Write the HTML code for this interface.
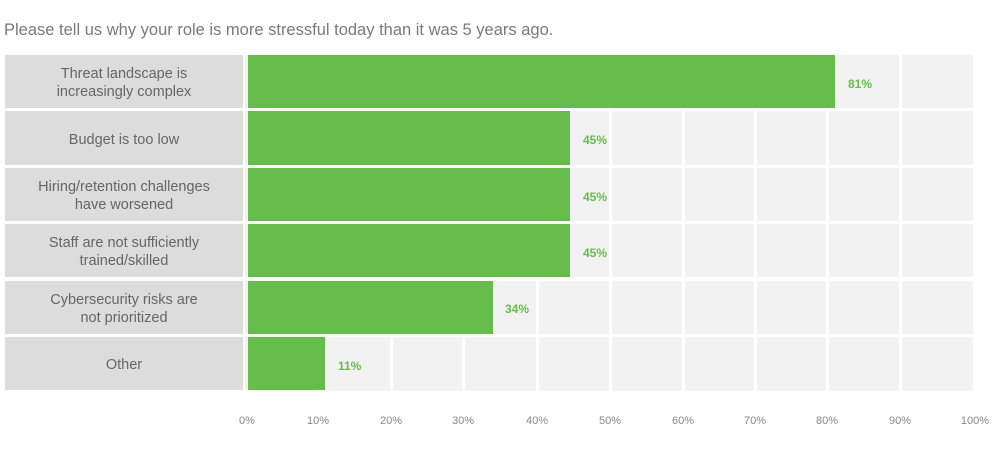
<!DOCTYPE html>
<html><head><style>
body{margin:0;width:1000px;height:457px;background:#fff;font-family:"Liberation Sans",sans-serif;position:relative;overflow:hidden}
.a{position:absolute}
.t{left:4px;top:21px;font-size:16.5px;color:#7a7a7a}
.lab{left:5px;width:238px;background:#dcdcdd;color:#666;font-size:14.5px;text-align:center;display:flex;align-items:center;justify-content:center;line-height:18px;padding-top:3px;box-sizing:border-box}
.bar{left:248px;background:#66bd4b}
.v{color:#66bd4b;font-weight:bold;font-size:12px}
.g{width:3px;background:#fff;top:55px;height:336px}
.x{top:415px;font-size:11px;color:#888;width:40px;margin-left:-20px;text-align:center}
</style></head><body>
<div class="a t">Please tell us why your role is more stressful today than it was 5 years ago.</div>
<div class="a" style="left:245px;top:55px;width:728px;height:336px;background:#f2f2f2"></div>
<div class="a g" style="left:317px"></div><div class="a g" style="left:390px"></div><div class="a g" style="left:462px"></div><div class="a g" style="left:536px"></div><div class="a g" style="left:609px"></div><div class="a g" style="left:682px"></div><div class="a g" style="left:754px"></div><div class="a g" style="left:826px"></div><div class="a g" style="left:899px"></div>
<div class="a" style="left:245px;top:108px;width:728px;height:3px;background:#fff"></div>
<div class="a" style="left:245px;top:165px;width:728px;height:3px;background:#fff"></div>
<div class="a" style="left:245px;top:221px;width:728px;height:3px;background:#fff"></div>
<div class="a" style="left:245px;top:277px;width:728px;height:4px;background:#fff"></div>
<div class="a" style="left:245px;top:334px;width:728px;height:3px;background:#fff"></div>

<div class="a lab" style="top:55px;height:53px">Threat landscape is<br>increasingly complex</div>
<div class="a lab" style="top:111px;height:54px">Budget is too low</div>
<div class="a lab" style="top:168px;height:53px">Hiring/retention challenges<br>have worsened</div>
<div class="a lab" style="top:224px;height:53px">Staff are not sufficiently<br>trained/skilled</div>
<div class="a lab" style="top:281px;height:53px">Cybersecurity risks are<br>not prioritized</div>
<div class="a lab" style="top:337px;height:53px">Other</div>

<div class="a bar" style="top:55px;height:53px;width:587px"></div><div class="a v" style="left:848px;top:77px">81%</div>
<div class="a bar" style="top:111px;height:54px;width:322px"></div><div class="a v" style="left:583px;top:133px">45%</div>
<div class="a bar" style="top:168px;height:53px;width:322px"></div><div class="a v" style="left:583px;top:190px">45%</div>
<div class="a bar" style="top:224px;height:53px;width:322px"></div><div class="a v" style="left:583px;top:246px">45%</div>
<div class="a bar" style="top:281px;height:53px;width:245px"></div><div class="a v" style="left:505px;top:302px">34%</div>
<div class="a bar" style="top:337px;height:53px;width:77px"></div><div class="a v" style="left:338px;top:359px">11%</div>

<div class="a x" style="left:247px">0%</div><div class="a x" style="left:318px">10%</div><div class="a x" style="left:391px">20%</div><div class="a x" style="left:463px">30%</div><div class="a x" style="left:537px">40%</div><div class="a x" style="left:610px">50%</div><div class="a x" style="left:683px">60%</div><div class="a x" style="left:755px">70%</div><div class="a x" style="left:827px">80%</div><div class="a x" style="left:900px">90%</div><div class="a x" style="left:975px">100%</div>
</body></html>
